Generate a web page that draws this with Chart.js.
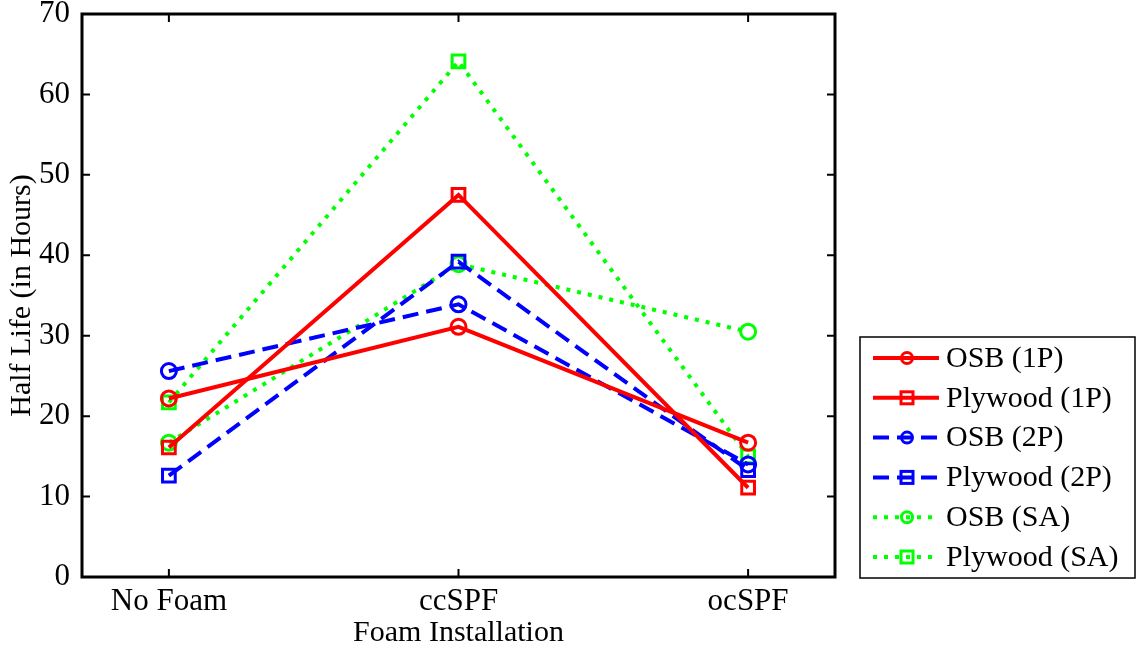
<!DOCTYPE html>
<html>
<head>
<meta charset="utf-8">
<script src="https://cdn.jsdelivr.net/npm/chart.js@4"></script>
<style>
  html, body { margin: 0; padding: 0; background: #fff; }
  #wrap { width: 1138px; height: 649px; }
</style>
</head>
<body>
<div id="wrap"><canvas id="halfLifeChart" width="1138" height="649"></canvas></div>
<script>
const categories = ['No Foam', 'ccSPF', 'ocSPF'];
const yTicks = [0, 10, 20, 30, 40, 50, 60, 70];
const seriesNames = ['OSB (1P)', 'Plywood (1P)', 'OSB (2P)', 'Plywood (2P)', 'OSB (SA)', 'Plywood (SA)'];
const osb1P = [22.2, 31.1, 16.7];
const plywood1P = [16.1, 47.5, 11.1];
const osb2P = [25.6, 33.9, 14.0];
const plywood2P = [12.6, 39.2, 13.3];
const osbSA = [16.7, 38.9, 30.5];
const plywoodSA = [21.7, 64.1, 15.0];

const RED = '#ff0000', BLUE = '#0000ff', GREEN = '#00ff00';
const FONT = '"Liberation Serif", "Times New Roman", serif';

function toPoints(vals) {
    return vals.map((v, i) => ({ x: i, y: v }));
}

function makeSet(label, vals, color, dash, marker) {
    return {
        label: label,
        data: toPoints(vals),
        borderColor: color,
        backgroundColor: 'rgba(0,0,0,0)',
        borderWidth: 4,
        borderDash: dash,
        pointStyle: marker,
        pointRadius: marker === 'rect' ? 9 : 7.5,
        pointBorderWidth: 3,
        pointBorderColor: color,
        pointBackgroundColor: 'rgba(0,0,0,0)',
        tension: 0
    };
}

const datasets = [
    makeSet(seriesNames[0], osb1P, RED, [], 'circle'),
    makeSet(seriesNames[1], plywood1P, RED, [], 'rect'),
    makeSet(seriesNames[2], osb2P, BLUE, [16, 8], 'circle'),
    makeSet(seriesNames[3], plywood2P, BLUE, [16, 8], 'rect'),
    makeSet(seriesNames[4], osbSA, GREEN, [4, 7], 'circle'),
    makeSet(seriesNames[5], plywoodSA, GREEN, [4, 7], 'rect')
];

// frame, inward ticks and boxed legend like the original figure
const framePlugin = {
    id: 'frame',
    afterDatasetsDraw(chart) {
        const { ctx, chartArea: a, scales } = chart;
        ctx.save();
        ctx.strokeStyle = '#000';
        ctx.lineWidth = 3;
        ctx.strokeRect(a.left, a.top, a.right - a.left, a.bottom - a.top);
        ctx.lineWidth = 2;
        yTicks.forEach(t => {
            const y = scales.y.getPixelForValue(t);
            ctx.beginPath();
            ctx.moveTo(a.left, y); ctx.lineTo(a.left + 8, y);
            ctx.moveTo(a.right, y); ctx.lineTo(a.right - 8, y);
            ctx.stroke();
        });
        categories.forEach((c, i) => {
            const x = scales.x.getPixelForValue(i);
            ctx.beginPath();
            ctx.moveTo(x, a.bottom); ctx.lineTo(x, a.bottom - 8);
            ctx.moveTo(x, a.top); ctx.lineTo(x, a.top + 8);
            ctx.stroke();
        });

        // legend
        const lx = 860, ly = 337, lw = 275, lh = 241;
        ctx.fillStyle = '#fff';
        ctx.fillRect(lx, ly, lw, lh);
        ctx.strokeStyle = '#000';
        ctx.lineWidth = 1.5;
        ctx.strokeRect(lx, ly, lw, lh);
        ctx.font = '30px ' + FONT;
        ctx.textBaseline = 'middle';
        datasets.forEach((ds, i) => {
            const y = ly + 21 + i * 39.8;
            ctx.strokeStyle = ds.borderColor;
            ctx.lineWidth = 4;
            ctx.setLineDash(ds.borderDash);
            ctx.beginPath();
            ctx.moveTo(lx + 13, y); ctx.lineTo(lx + 79, y);
            ctx.stroke();
            ctx.setLineDash([]);
            ctx.lineWidth = 3;
            const mx = lx + 47;
            if (ds.pointStyle === 'circle') {
                ctx.beginPath();
                ctx.arc(mx, y, 5.5, 0, Math.PI * 2);
                ctx.stroke();
            } else {
                ctx.strokeRect(mx - 6, y - 6, 12, 12);
            }
            ctx.fillStyle = '#000';
            ctx.fillText(ds.label, lx + 86, y + 1);
        });
        ctx.restore();
    }
};

const ctx = document.getElementById('halfLifeChart').getContext('2d');
new Chart(ctx, {
    type: 'line',
    data: { datasets: datasets },
    options: {
        responsive: false,
        animation: false,
        layout: { padding: { top: 14, right: 303, left: 0, bottom: 0 } },
        plugins: { legend: { display: false }, tooltip: { enabled: false } },
        scales: {
            x: {
                type: 'linear',
                min: -0.3,
                max: 2.3,
                afterFit(s) { s.height = 72; s.paddingLeft = 0; s.paddingRight = 0; },
                afterBuildTicks(s) { s.ticks = categories.map((c, i) => ({ value: i })); },
                grid: { display: false },
                border: { display: false },
                ticks: {
                    color: '#000',
                    font: { family: FONT, size: 31 },
                    padding: -2,
                    maxRotation: 0,
                    autoSkip: false,
                    callback: v => categories[v]
                },
                title: {
                    display: true,
                    text: 'Foam Installation',
                    color: '#000',
                    font: { family: FONT, size: 30 },
                    padding: { top: 0, bottom: -2 }
                }
            },
            y: {
                min: 0,
                max: 70,
                afterFit(s) { s.width = 82; s.paddingTop = 0; s.paddingBottom = 0; },
                afterBuildTicks(s) { s.ticks = yTicks.map(v => ({ value: v })); },
                grid: { display: false },
                border: { display: false },
                ticks: {
                    color: '#000',
                    font: { family: FONT, size: 31 },
                    padding: 4
                },
                title: {
                    display: true,
                    text: 'Half Life (in Hours)',
                    color: '#000',
                    font: { family: FONT, size: 30 },
                    padding: { top: 4, bottom: 0 }
                }
            }
        }
    },
    plugins: [framePlugin]
});
</script>
</body>
</html>
